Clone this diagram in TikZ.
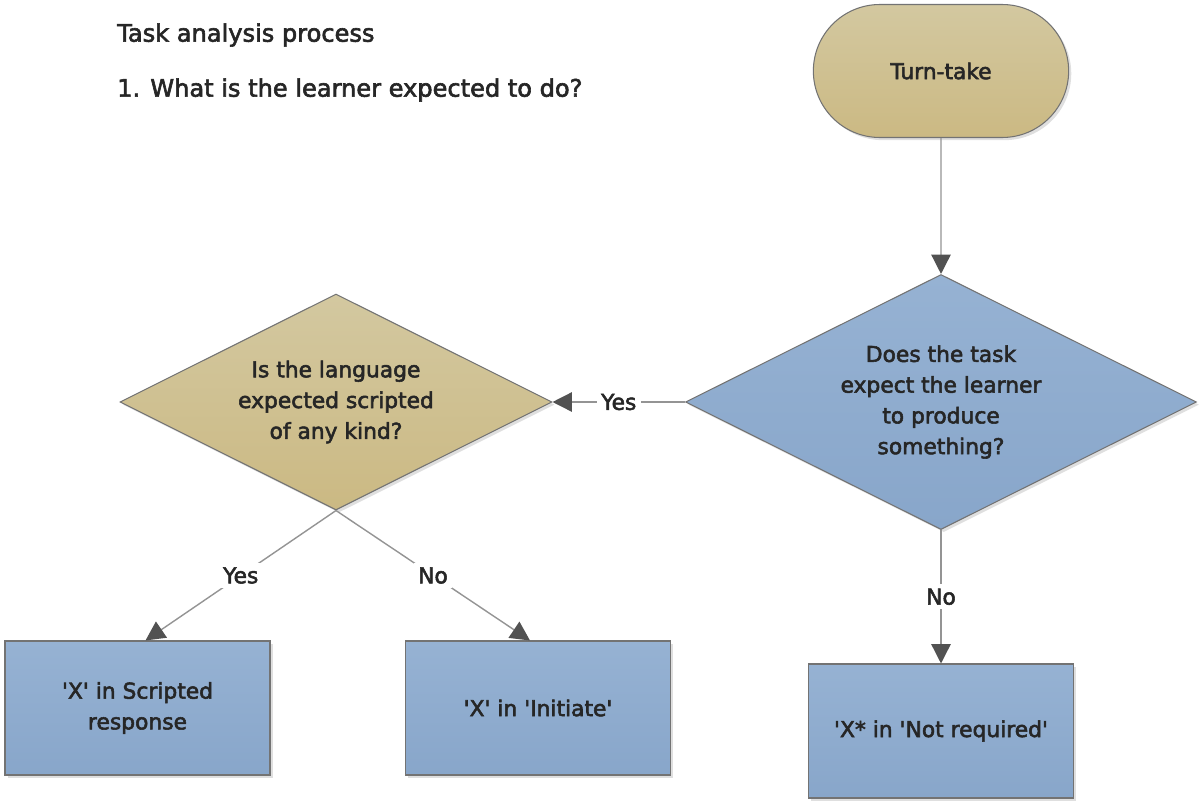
\documentclass[tikz,border=0pt]{standalone}
\usepackage{fontspec}
\setmainfont{DejaVu Sans}[RawFeature={embolden=2.5}]
\usetikzlibrary{arrows.meta,shapes.geometric,shapes.misc,shadows}
\newcommand{\sq}{\textquotesingle}

\begin{document}
\begin{tikzpicture}[
  nodetext/.style={font=\fontsize{12.4}{17.5}\selectfont, text=black!85, align=center},
  shapeline/.style={draw=black!55, line width=0.6pt,
    drop shadow={opacity=0.25, shadow xshift=1.5pt, shadow yshift=-1.5pt}},
  tanfill/.style={top color=tanTop, bottom color=tanBot},
  bluefill/.style={top color=blueTop, bottom color=blueBot},
  decision/.style={diamond, aspect=2, inner sep=0pt, shapeline, nodetext},
  outcome/.style={rectangle, minimum width=5.3cm, minimum height=2.68cm, shapeline, bluefill, nodetext},
  flow/.style={draw=black!42, line width=0.8pt},
  flowtip/.style={-{Triangle[length=11pt,width=11pt,color=black!68]}},
  answer/.style={fill=white, inner sep=2.5pt, font=\fontsize{12.4}{14}\selectfont, text=black!85},
  heading/.style={anchor=west, font=\fontsize{13.7}{16}\selectfont, text=black!85}
]
\definecolor{tanTop}{HTML}{D3C8A0}
\definecolor{tanBot}{HTML}{CBB983}
\definecolor{blueTop}{HTML}{96B2D3}
\definecolor{blueBot}{HTML}{88A6CA}
\useasboundingbox (0,0) rectangle (23.98,-16.04);

% heading
\node[heading] (title) at (2.22,-0.70) {Task analysis process};
\node[heading] (question) at (2.22,-1.80) {1. What is the learner expected to do?};

% shapes
\node[rounded rectangle, minimum width=5.34cm, minimum height=2.66cm, shapeline, tanfill, nodetext] (turn) at (18.82,-1.42) {Turn-take};
\node[decision, bluefill, minimum width=10.22cm, minimum height=5.10cm] (produce) at (18.82,-8.04)
  {Does the task\\expect the learner\\to produce\\something?};
\node[decision, tanfill, minimum width=8.64cm, minimum height=4.32cm] (scripted) at (6.72,-8.04)
  {Is the language\\expected scripted\\of any kind?};
\node[outcome] (response) at (2.75,-14.16) {\sq X\sq{} in Scripted\\response};
\node[outcome] (initiate) at (10.76,-14.16) {\sq X\sq{} in \sq Initiate\sq};
\node[outcome] (notreq) at (18.82,-14.62) {\sq X* in \sq Not required\sq};

% connectors
\draw[flow, flowtip] (turn) -- (produce);
\draw[flow, flowtip] (produce.west) -- node[answer] {Yes} (scripted.east);
\draw[flow, flowtip] (scripted.south) -- node[answer] {Yes} ([xshift=0.16cm]response.north);
\draw[flow, flowtip] (scripted.south) -- node[answer] {No} ([xshift=-0.16cm]initiate.north);
\draw[flow, flowtip] (produce.south) -- node[answer] {No} (notreq.north);
\end{tikzpicture}
\end{document}
